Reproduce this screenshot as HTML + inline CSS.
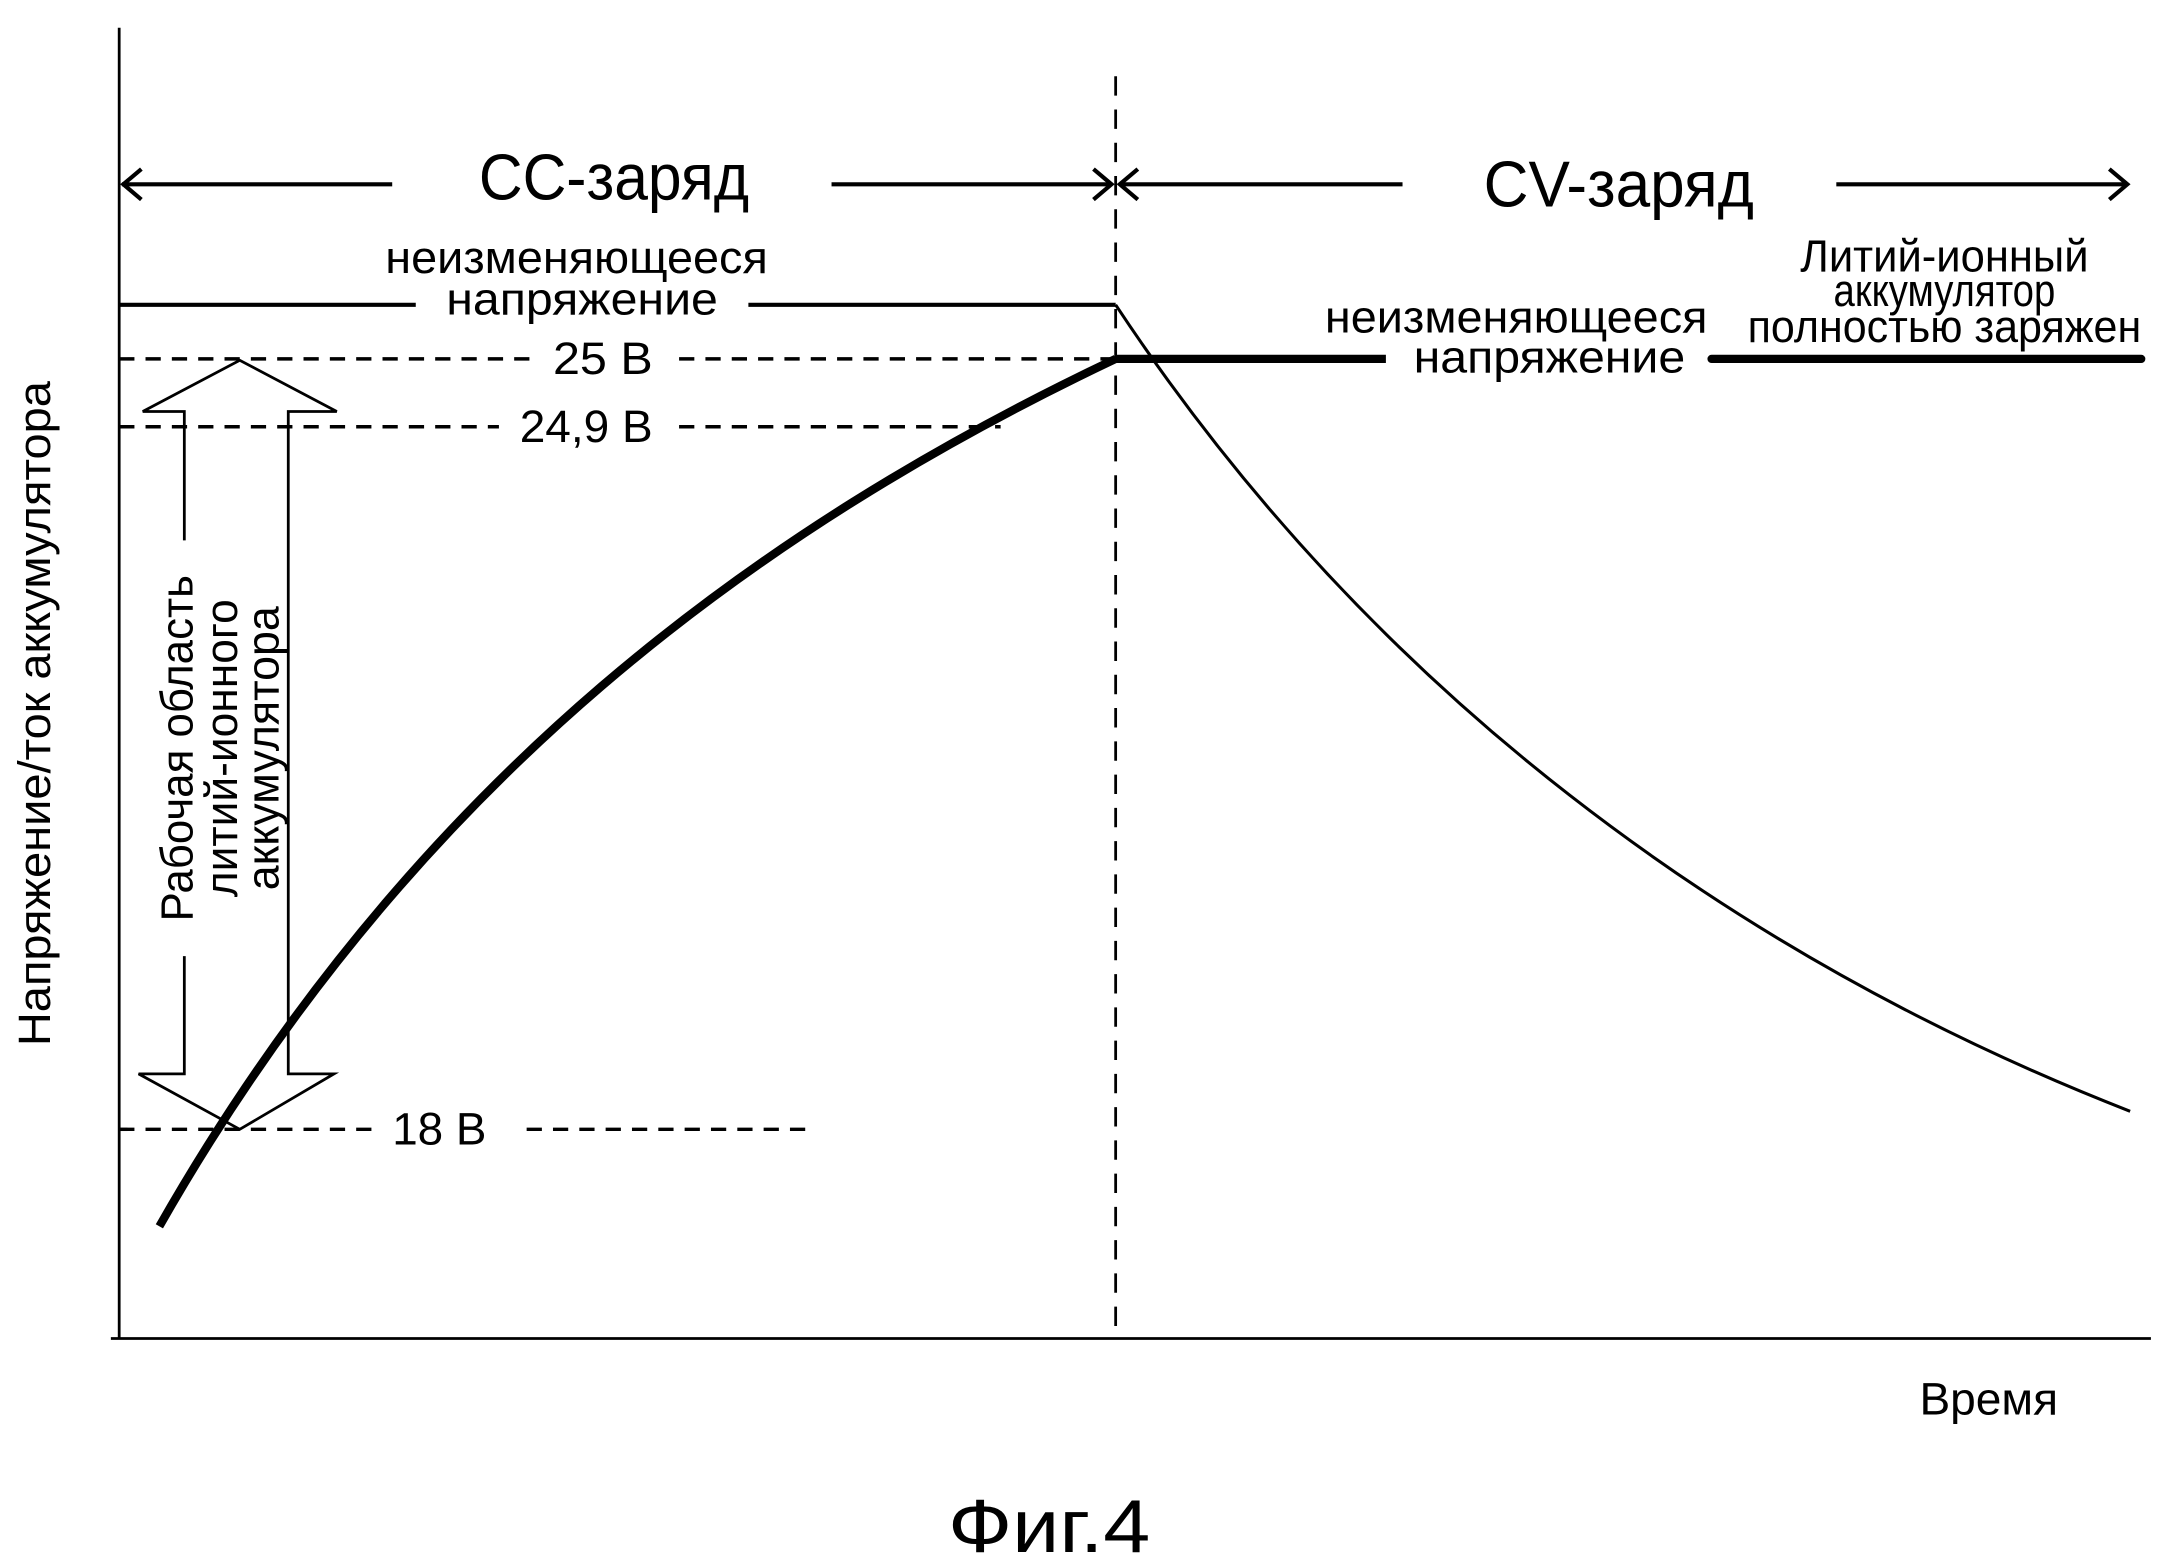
<!DOCTYPE html>
<html><head><meta charset="utf-8"><style>
html,body{margin:0;padding:0;background:#fff}
svg{display:block}
text{font-family:"Liberation Sans",sans-serif;fill:#000}
</style></head><body>
<svg width="2162" height="1563" viewBox="0 0 1560 1128" preserveAspectRatio="none">
<g stroke="#000" fill="none">
<line x1="86" y1="20" x2="86" y2="966" stroke-width="2"/>
<line x1="80" y1="966" x2="1552" y2="966" stroke-width="2"/>
<line x1="805" y1="55" x2="805" y2="966" stroke-width="2" stroke-dasharray="14,10"/>
<g stroke-width="3">
<line x1="88" y1="133" x2="283" y2="133"/><polyline points="102,122 89,133 102,144"/>
<line x1="600" y1="133" x2="802" y2="133"/><polyline points="789,122 802,133 789,144"/>
<line x1="808" y1="133" x2="1012" y2="133"/><polyline points="821,122 808,133 821,144"/>
<line x1="1325" y1="133" x2="1535" y2="133"/><polyline points="1522,122 1535,133 1522,144"/>
</g>
<line x1="86" y1="220" x2="300" y2="220" stroke-width="3"/>
<line x1="540" y1="220" x2="805" y2="220" stroke-width="3"/>
<path d="M805,220 C990,500 1250,690 1537,802" stroke-width="2.2"/>
<g stroke-width="2.5" stroke-dasharray="11,8">
<line x1="86" y1="259" x2="385" y2="259"/><line x1="490" y1="259" x2="805" y2="259"/>
<line x1="86" y1="308" x2="360" y2="308"/><line x1="490" y1="308" x2="722" y2="308"/>
<line x1="86" y1="815" x2="272" y2="815"/><line x1="380" y1="815" x2="582" y2="815"/>
</g>
<path d="M115,885 C300,560 550,380 805,259" stroke-width="6"/>
<line x1="805" y1="259" x2="1000" y2="259" stroke-width="6"/>
<line x1="1235" y1="259" x2="1545" y2="259" stroke-width="6" stroke-linecap="round"/>
<g stroke-width="2">
<polyline points="133,390 133,297 103,297 173,260 243,297 208,297 208,775 241,775 173,815 100,775 133,775 133,690"/>
</g>
</g>
<g font-size="47" text-anchor="middle">
<text x="443" y="144" textLength="195" lengthAdjust="spacingAndGlyphs">CC-заряд</text>
<text x="1168" y="149" textLength="195" lengthAdjust="spacingAndGlyphs">CV-заряд</text>
</g>
<g font-size="33" text-anchor="middle">
<text x="416" y="197" textLength="276" lengthAdjust="spacingAndGlyphs">неизменяющееся</text>
<text x="420" y="227" textLength="196" lengthAdjust="spacingAndGlyphs">напряжение</text>
<text x="1094" y="240" textLength="276" lengthAdjust="spacingAndGlyphs">неизменяющееся</text>
<text x="1118" y="269" textLength="196" lengthAdjust="spacingAndGlyphs">напряжение</text>
<text x="1403" y="196" textLength="208" lengthAdjust="spacingAndGlyphs">Литий-ионный</text>
<text x="1403" y="221" textLength="160" lengthAdjust="spacingAndGlyphs">аккумулятор</text>
<text x="1403" y="247" textLength="284" lengthAdjust="spacingAndGlyphs">полностью заряжен</text>
<text x="435" y="270" textLength="72" lengthAdjust="spacingAndGlyphs">25 В</text>
<text x="423" y="319" textLength="96" lengthAdjust="spacingAndGlyphs">24,9 В</text>
<text x="317" y="826" textLength="68" lengthAdjust="spacingAndGlyphs">18 В</text>
<text x="1435" y="1021" textLength="100" lengthAdjust="spacingAndGlyphs">Время</text>
<text transform="translate(36,515) rotate(-90)" textLength="480" lengthAdjust="spacingAndGlyphs">Напряжение/ток аккумулятора</text>
<text transform="translate(139,540) rotate(-90)" textLength="250" lengthAdjust="spacingAndGlyphs">Рабочая область</text>
<text transform="translate(171,540) rotate(-90)" textLength="215" lengthAdjust="spacingAndGlyphs">литий-ионного</text>
<text transform="translate(201,540) rotate(-90)" textLength="205" lengthAdjust="spacingAndGlyphs">аккумулятора</text>
</g>
<text x="757" y="1120" font-size="54" text-anchor="middle" textLength="146" lengthAdjust="spacingAndGlyphs">Фиг.4</text>
</svg>
</body></html>
